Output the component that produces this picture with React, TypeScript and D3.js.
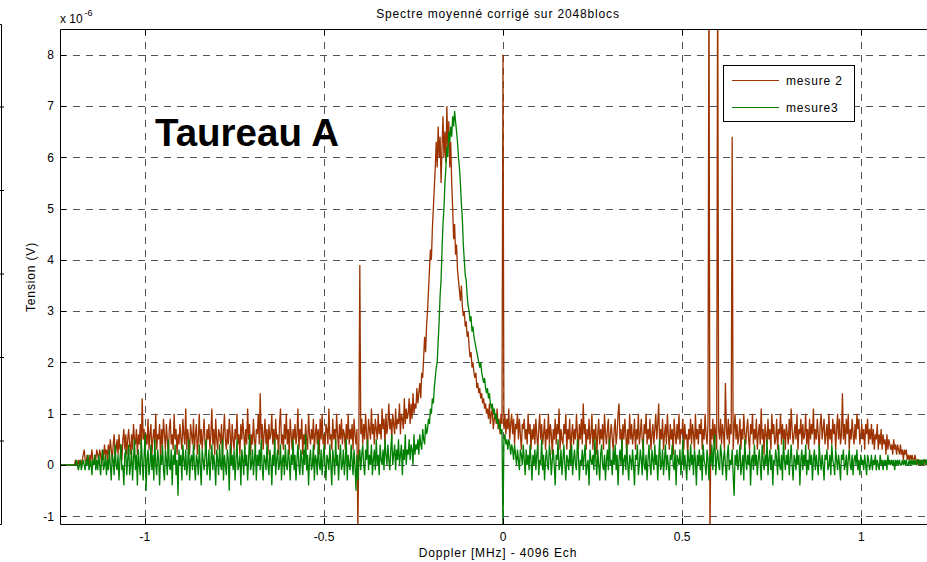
import React, { useEffect, useRef } from "react";
import * as d3 from "d3";

const title = "Spectre moyenné corrigé sur 2048blocs";
const xLabel = "Doppler [MHz] - 4096 Ech";
const yLabel = "Tension (V)";
const xTicks = [-1, -0.5, 0, 0.5, 1];
const yTicks = [-1, 0, 1, 2, 3, 4, 5, 6, 7, 8];

// samples start at -1.237 MHz, one every 0.0027 MHz
const xStart = -1.237;
const xStep = 0.0027;

// values in units of 1e-7 V (tenths of the axis unit)
const mesure2 = [
  0, 0, 0, 0, 0, 0, 0, 0, 0, 0,
  0, 0, 0, 0, 0, 0, 1, 0, 0, 1,
  0, 1, 0, 1, 2, 3, 1, 0, 2, 1,
  0, 2, 1, 3, 1, 0, 2, 1, 3, 2,
  1, 3, 2, 0, 3, 1, 4, 2, 3, 1,
  4, 2, 5, 3, 1, 4, 6, 2, 3, 5,
  2, 6, 3, 4, 1, 5, 7, 3, 6, 2,
  5, 7, 4, 2, 6, 3, 8, 5, 4, 7,
  2, 6, 4, 8, 3, 13, 5, 7, 2, 6,
  4, 9, 3, 6, 8, 2, 5, 7, 4, 10,
  3, 6, 5, 8, 1, 7, 4, 9, 6, 3,
  8, 5, 2, 7, 9, 4, 6, 3, 10, 5,
  7, 2, 6, 4, 8, 5, 3, 9, 6, 4,
  11, 3, 7, 5, 2, 8, 6, 4, 9, 3,
  6, 8, 2, 5, 10, 4, 7, 3, 6, 9,
  4, 2, 7, 5, 8, 3, 6, 11, 4, 7,
  2, 9, 5, 3, 7, 6, 4, 8, 2, 6,
  10, 5, 3, 7, 4, 9, 6, 2, 8, 5,
  3, 7, 5, 10, 4, 6, 2, 8, 5, 9,
  6, 3, 7, 4, 11, 5, 8, 2, 6, 4,
  9, 5, 3, 7, 6, 10, 4, 14, 5, 8,
  3, 6, 9, 4, 7, 2, 8, 5, 6, 10,
  4, 7, 3, 9, 5, 6, 2, 8, 11, 4,
  6, 3, 8, 5, 10, 4, 7, 2, 9, 6,
  3, 7, 5, 8, 4, 6, 11, 3, 7, 5,
  9, 2, 6, 4, 8, 5, 3, 10, 6, 4,
  7, 5, 9, 3, 6, 8, 4, 7, 2, 9,
  5, 10, 4, 6, 3, 8, 7, 4, 11, 5,
  6, 3, 9, 5, 7, 4, 10, 6, 3, 8,
  5, 9, 4, 7, 6, 3, 8, 5, 10, 4,
  7, 5, 8, 3, 9, 6, 4, 7, -13, 5,
  39, 6, 9, 4, 8, 5, 10, 6, 3, 9,
  7, 5, 11, 6, 8, 4, 9, 7, 5, 10,
  6, 8, 5, 11, 7, 9, 4, 10, 6, 8,
  12, 7, 9, 5, 10, 8, 6, 11, 7, 9,
  8, 12, 6, 10, 9, 7, 13, 8, 11, 9,
  10, 13, 8, 12, 9, 14, 10, 12, 11, 15,
  12, 14, 16, 13, 18, 17, 21, 25, 22, 27,
  30, 34, 38, 42, 40, 46, 50, 54, 58, 63,
  58, 66, 60, 64, 55, 62, 68, 60, 65, 59,
  70, 62, 67, 58, 63, 55, 50, 44, 47, 41,
  43, 38, 36, 34, 32, 35, 31, 29, 30, 27,
  28, 25, 26, 23, 21, 22, 19, 20, 18, 17,
  18, 15, 16, 14, 15, 13, 14, 12, 13, 11,
  12, 10, 11, 9, 12, 8, 10, 11, 7, 9,
  10, 8, 11, 7, 9, 6, 10, 8, 80, 7,
  10, 6, 9, 7, 11, 5, 8, 10, 6, 9,
  4, 8, 7, 10, 5, 9, 6, 3, 8, 7,
  9, 5, 7, 4, 10, 6, 8, 3, 7, 5,
  8, 4, 9, 6, 3, 7, 10, 5, 8, 4,
  6, 9, 3, 7, 5, 10, 4, 8, 6, 2,
  7, 5, 9, 4, 8, 6, 11, 3, 7, 5,
  4, 8, 6, 10, 3, 7, 5, 9, 2, 6,
  8, 4, 7, 5, 10, 6, 3, 8, 5, 9,
  4, 12, 6, 8, 3, 7, 5, 9, 4, 6,
  10, 3, 7, 5, 8, 2, 6, 9, 4, 7,
  5, 8, 3, 10, 6, 4, 7, 9, 2, 6,
  8, 5, 3, 7, 9, 4, 6, 10, 12, 5,
  7, 3, 8, 5, 9, 6, 2, 7, 4, 10,
  5, 8, 4, 6, 9, 3, 7, 5, 10, 4,
  6, 9, 5, 3, 8, 6, 10, 4, 7, 5,
  9, 3, 6, 8, 4, 7, 10, 5, 8, 12,
  4, 7, 5, 9, 3, 6, 8, 4, 10, 6,
  3, 8, 5, 7, 2, 9, 6, 4, 8, 5,
  10, 4, 7, 6, 9, 3, 8, 5, 6, 2,
  7, 5, 9, 4, 8, 6, 3, 10, 5, 7,
  4, 8, 6, 9, 3, 7, 5, 10, 6, 4,
  8, 100, -15, 7, 5, 9, 4, 8, 6, 3,
  100, 7, 5, 9, 4, 8, 6, 3, 16, 7,
  5, 9, 4, 8, 6, 64, 3, 7, 10, 5,
  8, 4, 6, 9, 3, 7, 5, 10, 6, 4,
  7, 9, 5, 3, 8, 6, 10, 4, 7, 5,
  9, 3, 6, 8, 4, 11, 5, 7, 2, 8,
  6, 4, 9, 5, 7, 3, 10, 6, 8, 4,
  5, 9, 3, 7, 6, 10, 4, 8, 5, 7,
  3, 8, 6, 4, 9, 5, 11, 7, 4, 6,
  8, 5, 10, 3, 7, 6, 9, 4, 8, 5,
  6, 10, 4, 7, 3, 9, 5, 8, 6, 11,
  4, 7, 5, 9, 6, 3, 8, 10, 5, 7,
  9, 4, 6, 8, 3, 10, 5, 7, 4, 9,
  6, 8, 3, 7, 10, 5, 9, 4, 6, 14,
  5, 8, 4, 9, 6, 10, 3, 7, 5, 9,
  6, 4, 8, 5, 10, 7, 9, 4, 6, 8,
  5, 7, 3, 8, 6, 9, 4, 7, 5, 8,
  4, 7, 3, 6, 5, 8, 3, 6, 4, 7,
  3, 6, 4, 5, 2, 6, 3, 5, 4, 3,
  4, 2, 5, 3, 4, 2, 4, 3, 2, 4,
  2, 3, 1, 3, 2, 3, 1, 2, 1, 2,
  1, 2, 1, 1, 2, 1, 0, 1, 1, 0,
  1, 0, 1, 0, 1, 1, 0, 1, 0, 1,
];

const mesure3 = [
  0, 0, 0, 0, 0, 0, 0, 0, 0, 0,
  0, 0, 0, 0, 0, 0, 0, 1, 0, -1,
  0, 1, -1, 0, 1, 0, -1, 1, 0, 2,
  -1, 0, 1, -2, 1, 0, 2, -1, 1, -1,
  2, 0, -2, 1, 3, -1, 0, 2, -2, 1,
  -1, 3, 0, -3, 2, 1, -2, 4, 0, -1,
  2, -3, 1, 4, -1, 0, -4, 2, 3, -2,
  1, 4, -2, 0, 3, -3, 1, 5, -1, 2,
  -4, 3, 0, -2, 5, 1, -3, 2, 6, -5,
  1, 3, -2, 0, 4, -1, 2, -3, 5, 0,
  -2, 3, 1, -4, 2, 0, 4, -1, -3, 3,
  1, -2, 5, 0, -1, 3, -4, 2, 0, 4,
  -2, 1, -6, 3, 0, 2, -3, 4, 1, -1,
  3, -2, 0, 5, -3, 1, 2, -1, 4, 0,
  -3, 2, 1, -2, 4, 0, -4, 3, 1, -1,
  2, 5, -2, 0, 3, -3, 1, 4, -1, 2,
  0, -4, 3, 1, -2, 4, 0, -1, 5, -3,
  2, 0, -2, 3, 1, -5, 4, 0, 2, -1,
  3, -3, 1, 5, -1, 0, 2, -4, 3, 1,
  -2, 4, 0, 2, -3, 1, 6, -1, 0, 3,
  -2, 1, 4, -3, 2, 0, 3, -1, 5, 0,
  -3, 2, 1, -1, 4, 0, -2, 3, 1, -4,
  2, 0, 5, -2, 1, 3, -1, 0, 4, -3,
  1, 2, -2, 4, 0, -1, 3, 1, -3, 2,
  0, 5, -1, 2, -3, 1, 4, 0, -2, 3,
  1, -2, 3, 0, 6, -1, 2, -4, 1, 3,
  -1, 0, 4, -3, 2, 1, -2, 5, 0, -1,
  3, -2, 1, 4, 0, -3, 2, 1, -1, 4,
  0, -4, 3, 1, -2, 5, 0, 2, -3, 1,
  4, -1, 0, 3, -2, 1, 5, -3, 2, 0,
  -1, 4, 1, -2, 3, 0, -5, 2, -3, 1,
  3, -1, 2, 4, 0, -2, 3, 1, 5, -1,
  2, 0, 4, -2, 1, 3, -1, 5, 0, 2,
  -2, 4, 1, 0, 3, -1, 5, 2, 0, 4,
  1, -1, 3, 6, 0, 2, 4, -1, 3, 1,
  5, 0, 2, 4, -2, 3, 1, 6, 0, 3,
  2, 5, 1, 4, 3, 0, 6, 2, 4, 3,
  5, 2, 6, 4, 3, 7, 5, 4, 8, 6,
  7, 9, 8, 11, 10, 13, 12, 15, 17, 19,
  20, 24, 28, 33, 36, 42, 47, 50, 55, 58,
  62, 60, 65, 63, 66, 64, 68, 66, 69, 67,
  65, 63, 60, 58, 55, 51, 48, 43, 40, 37,
  36, 33, 31, 30, 28, 29, 26, 27, 25, 24,
  23, 22, 21, 20, 19, 20, 18, 17, 16, 17,
  15, 14, 15, 13, 14, 12, 11, 12, 10, 11,
  9, 10, 8, 9, 7, 8, 6, 7, -13, 5,
  6, 4, 5, 3, 5, 4, 2, 4, 3, 1,
  4, 2, 0, 3, 1, -1, 3, 2, 0, 4,
  1, -2, 3, 0, 2, -1, 4, 1, -3, 2,
  0, 3, -1, 2, 4, -2, 1, 0, 5, -1,
  2, -3, 1, 3, 0, -1, 4, 2, -2, 1,
  3, 0, -4, 2, 1, 5, -1, 0, 3, -2,
  1, 4, 0, -3, 2, 1, -1, 3, 0, 4,
  -2, 1, 3, 0, -1, 5, 2, -3, 1, 0,
  3, -1, 2, 4, -2, 0, 1, -4, 3, 1,
  0, 2, -1, 5, 1, -2, 3, 0, -3, 2,
  4, 0, -1, 2, -3, 1, 3, -1, 5, 0,
  1, -2, 3, 0, 4, -1, 2, -4, 1, 3,
  0, 5, -2, 1, 2, -1, 4, 0, -3, 2,
  1, -1, 3, 0, -4, 2, 1, 4, -2, 0,
  3, 1, -2, 5, 0, -1, 2, -3, 1, 4,
  0, -2, 3, 1, -1, 4, 0, 2, -3, 1,
  5, -1, 0, 3, -2, 1, 4, -1, 2, 0,
  -3, 2, 1, 4, 0, -1, 3, -4, 2, 1,
  0, 3, -2, 1, 5, -1, 2, 0, -3, 3,
  1, -1, 4, 0, 2, -2, 3, 1, -4, 2,
  0, 3, -1, 2, -3, 4, 1, 0, -2, 3,
  1, -3, 2, 0, 4, -1, 3, 6, -2, 1,
  3, 0, -1, 4, 2, -2, 1, 3, 0, -3,
  2, 4, -1, 1, 0, 3, -2, -6, 2, 0,
  3, -1, 1, 4, -2, 0, 2, -3, 5, 1,
  -1, 2, 0, 3, -4, 1, 2, -1, 4, 0,
  2, -2, 1, 3, 0, -3, 4, 1, -1, 2,
  0, 5, -2, 1, 3, -1, 2, -4, 1, 0,
  3, 1, -2, 4, 0, -1, 2, -3, 5, 1,
  -1, 2, 0, 3, -2, 1, 4, 0, -3, 2,
  1, -1, 3, 0, 2, -4, 1, 3, -1, 2,
  0, 4, -2, 1, -1, 3, 0, 2, -3, 1,
  3, -1, 2, 0, -2, 4, 1, -1, 2, 0,
  -3, 2, 1, 3, -1, 0, 2, -2, 4, 1,
  0, -2, 3, 1, -1, 2, 0, -3, 2, 1,
  3, -1, 0, 2, -2, 1, 3, 0, -1, 2,
  -2, 1, 2, 0, 3, -1, 1, -2, 2, 0,
  1, -1, 2, 0, -2, 2, 1, -1, 0, 2,
  -1, 1, 0, 2, -1, 1, 0, -1, 2, 0,
  1, -1, 1, 0, 1, -1, 2, 0, 1, 0,
  1, 0, 1, -1, 1, 0, 1, 0, 1, 0,
  0, 1, 0, 1, 0, 1, 0, 0, 1, 0,
  1, 0, 1, 0, 1, 0, 1, 1, 0, 1,
  0, 1, 0, 1, 1, 0, 1, 0, 1, 1,
];

const series = [
  { name: "mesure 2", color: "#9c3300", values: mesure2 },
  { name: "mesure3", color: "#008000", values: mesure3 },
];

export default function App() {
  const ref = useRef<SVGSVGElement>(null);

  useEffect(() => {
    const svg = d3.select(ref.current);
    svg.selectAll("*").remove();

    const box = { left: 60, right: 936, top: 29, bottom: 524 };
    const font = "Arial, 'Liberation Sans', sans-serif";

    const x = d3.scaleLinear().domain([-1.237, 1.2085]).range([box.left, box.right]);
    const y = d3.scaleLinear().domain([-1.15, 8.5]).range([box.bottom, box.top]);

    svg
      .append("defs")
      .append("clipPath")
      .attr("id", "plot-clip")
      .append("rect")
      .attr("x", box.left)
      .attr("y", box.top)
      .attr("width", box.right - box.left)
      .attr("height", box.bottom - box.top);

    // edge of the neighbouring figure on the left
    svg
      .append("path")
      .attr("d", "M-2,24.5H1.5V524.5H-2")
      .attr("fill", "none")
      .attr("stroke", "#000");
    [107, 190.5, 274, 357.5, 441].forEach((ty) => {
      svg
        .append("line")
        .attr("x1", 0)
        .attr("x2", 4)
        .attr("y1", ty)
        .attr("y2", ty)
        .attr("stroke", "#000");
    });

    // grid
    const grid = svg.append("g").attr("stroke", "#555").attr("stroke-dasharray", "7,6");
    grid
      .selectAll("line.h")
      .data(yTicks)
      .join("line")
      .attr("class", "h")
      .attr("x1", box.left)
      .attr("x2", box.right)
      .attr("y1", (d) => Math.round(y(d)) + 0.5)
      .attr("y2", (d) => Math.round(y(d)) + 0.5);
    grid
      .selectAll("line.v")
      .data(xTicks)
      .join("line")
      .attr("class", "v")
      .attr("x1", (d) => Math.round(x(d)) + 0.5)
      .attr("x2", (d) => Math.round(x(d)) + 0.5)
      .attr("y1", box.top)
      .attr("y2", box.bottom);

    // data
    const line = d3
      .line<number>()
      .x((d, i) => x(xStart + i * xStep))
      .y((d) => y(d / 10));

    const plot = svg.append("g").attr("clip-path", "url(#plot-clip)");
    series.forEach((s) => {
      plot
        .append("path")
        .datum(s.values)
        .attr("fill", "none")
        .attr("stroke", s.color)
        .attr("stroke-width", 1.3)
        .attr("stroke-linejoin", "bevel")
        .attr("d", line);
    });

    // axes box and inward ticks
    const axes = svg.append("g").attr("stroke", "#000").attr("fill", "none");
    axes
      .append("path")
      .attr("d", `M${box.right},${box.top + 0.5}H${box.left + 0.5}V${box.bottom + 0.5}H${box.right}`);
    yTicks.forEach((t) => {
      const ty = Math.round(y(t)) + 0.5;
      axes.append("line").attr("x1", box.left).attr("x2", box.left + 6).attr("y1", ty).attr("y2", ty);
    });
    xTicks.forEach((t) => {
      const tx = Math.round(x(t)) + 0.5;
      axes.append("line").attr("x1", tx).attr("x2", tx).attr("y1", box.bottom).attr("y2", box.bottom - 6);
      axes.append("line").attr("x1", tx).attr("x2", tx).attr("y1", box.top).attr("y2", box.top + 6);
    });

    // tick labels
    const labels = svg.append("g").attr("font-family", font).attr("font-size", 12).attr("fill", "#000");
    labels
      .selectAll("text.y")
      .data(yTicks)
      .join("text")
      .attr("class", "y")
      .attr("x", 54)
      .attr("y", (d) => y(d) + 4.3)
      .attr("text-anchor", "end")
      .text((d) => d);
    labels
      .selectAll("text.x")
      .data(xTicks)
      .join("text")
      .attr("class", "x")
      .attr("x", (d) => x(d))
      .attr("y", 540.5)
      .attr("text-anchor", "middle")
      .text((d) => d);

    // exponent
    labels.append("text").attr("x", 60).attr("y", 23).text("x 10");
    labels.append("text").attr("x", 84.5).attr("y", 15.5).attr("font-size", 9).text("-6");

    // titles
    const spaced = svg
      .append("g")
      .attr("font-family", font)
      .attr("font-size", 12)
      .attr("letter-spacing", 0.85)
      .attr("text-anchor", "middle");
    spaced.append("text").attr("x", 498).attr("y", 18).text(title);
    spaced.append("text").attr("x", 498).attr("y", 557).text(xLabel);
    spaced
      .append("text")
      .attr("transform", "translate(35,277) rotate(-90)")
      .text(yLabel);

    svg
      .append("text")
      .attr("x", 155)
      .attr("y", 146)
      .attr("font-family", font)
      .attr("font-size", 38.5)
      .attr("font-weight", "bold")
      .text("Taureau A");

    // legend
    const legend = svg.append("g");
    legend
      .append("rect")
      .attr("x", 723.5)
      .attr("y", 65.5)
      .attr("width", 131)
      .attr("height", 56)
      .attr("fill", "#fff")
      .attr("stroke", "#000");
    series.forEach((s, i) => {
      const ly = 80.5 + i * 27;
      legend
        .append("line")
        .attr("x1", 732)
        .attr("x2", 779)
        .attr("y1", ly)
        .attr("y2", ly)
        .attr("stroke", s.color);
      legend
        .append("text")
        .attr("x", 786)
        .attr("y", ly + 4.5)
        .attr("font-family", font)
        .attr("font-size", 12)
        .attr("letter-spacing", 0.85)
        .text(s.name);
    });
  }, []);

  return (
    <svg
      ref={ref}
      width={927}
      height={562}
      style={{ position: "absolute", left: 0, top: 0, background: "#fff" }}
    ></svg>
  );
}
